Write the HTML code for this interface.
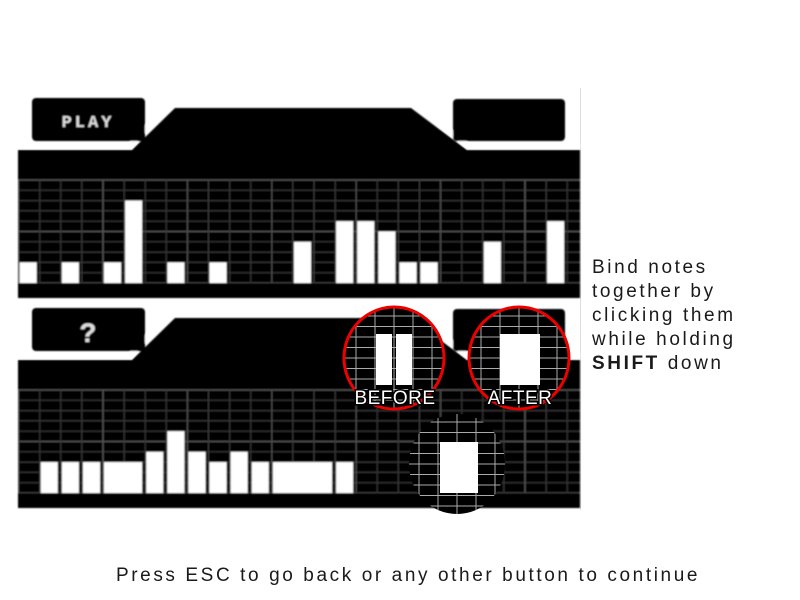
<!DOCTYPE html>
<html><head><meta charset="utf-8">
<style>
body{margin:0;width:800px;height:600px;background:#fff;overflow:hidden;font-family:"Liberation Sans",sans-serif;}
svg{position:absolute;left:0;top:0;}
.txt{position:absolute;color:#1a1a1a;font-size:19px;letter-spacing:2.6px;}
</style></head>
<body>
<svg id="scene" width="800" height="600">
  <defs>
    <filter id="soft"><feGaussianBlur stdDeviation="0.8"/></filter>
    <clipPath id="c1"><ellipse cx="394" cy="358" rx="50" ry="51"/></clipPath>
    <clipPath id="c2"><ellipse cx="519" cy="358" rx="50" ry="51"/></clipPath>
    <clipPath id="c3"><ellipse cx="457" cy="464" rx="48" ry="50"/></clipPath>
  </defs>
  <line x1="580.5" y1="88" x2="580.5" y2="510" stroke="#ddd" stroke-width="1"/>
  <g id="panels" filter="url(#soft)"></g>
  <g id="lens-before" clip-path="url(#c1)"></g>
  <ellipse cx="394" cy="358" rx="50" ry="51" fill="none" stroke="#e00" stroke-width="3"/>
  <g id="lens-after" clip-path="url(#c2)"></g>
  <ellipse cx="519" cy="358" rx="50" ry="51" fill="none" stroke="#e00" stroke-width="3"/>
  <g id="lens-cursor" clip-path="url(#c3)"></g>
  <text x="395" y="404" text-anchor="middle" font-size="19" fill="#fff" stroke="#000" stroke-width="3" paint-order="stroke" font-family="Liberation Sans, sans-serif" letter-spacing="0.5">BEFORE</text>
  <text x="520" y="404" text-anchor="middle" font-size="19" fill="#fff" stroke="#000" stroke-width="3" paint-order="stroke" font-family="Liberation Sans, sans-serif" letter-spacing="0.5">AFTER</text>
</svg>
<div class="txt" style="left:592px;top:256px;line-height:24px;">Bind notes<br>together by<br>clicking them<br>while holding<br><b style="letter-spacing:2.6px">SHIFT</b> down</div>
<div class="txt" style="left:0;width:816px;text-align:center;top:565px;">Press ESC to go back or any other button to continue</div>
<script>
// data
const topCols = [0,2,4,5,7,9,13,15,16,17,18,19,22,25];
const topHeights = [2,2,2,8,2,2,4,6,6,5,2,2,4,6];
const bottomCols = [1,2,3,4,6,7,8,9,10,11,12,15];
const bottomSpans = [1,1,1,2,1,1,1,1,1,1,3,1];
const bottomHeights = [3,3,3,3,4,6,4,3,4,3,3,3];
const panelLabels = ["PLAY","?"];

const NS="http://www.w3.org/2000/svg";
const X0=18.6, PITCH=21.1, ROW=10.3;
function colX(i){return X0+1+PITCH*i;}
function mk(tag,attrs,parent){const e=document.createElementNS(NS,tag);for(const k in attrs)e.setAttribute(k,attrs[k]);parent.appendChild(e);return e;}
const panels=document.getElementById('panels');

function panel(dy,label,cols,spans,heights,pname){
  const g=mk('g',{},panels);
  
  
  const hdr=mk('path',{d:`M18 ${150+dy} L132 ${150+dy} L175 ${108+dy} L411 ${108+dy} L467 ${150+dy} L580 ${150+dy} L580 ${298+dy} L18 ${298+dy} Z`,fill:'#000'},g);
  
  
  mk('path',{d:`M18 ${146+dy} L130 ${146+dy} L150 ${124+dy}`,stroke:'#fff','stroke-width':5,fill:'none'},g);
  mk('path',{d:`M440 ${124+dy} L468 ${146+dy} L580 ${146+dy}`,stroke:'#fff','stroke-width':5,fill:'none'},g);
  const lb=mk('rect',{x:32,y:98+dy,width:113,height:43,rx:4,fill:'#000'},g);
  
  
  const rb=mk('rect',{x:453,y:99+dy,width:112,height:42,rx:4,fill:'#000'},g);
  
  
  const t=mk('text',{x:88,y:(label==='?'?132:127)+dy,'text-anchor':'middle',fill:'#ddd','font-size':label==='?'?28:17,'font-weight':'bold','font-family':'Liberation Mono, monospace','letter-spacing':label==='?'?0:3},g);
  t.textContent=label;
  
  
  const top=180+dy, bot=283+dy;
  for(let k=0;k<=10;k++){
    const y=top+k*ROW;
    mk('line',{x1:18,x2:580,y1:y,y2:y,stroke:k%5===0?'#5a5a5a':'#3c3c3c','stroke-width':1},g);
  }
  for(let k=0;k<27;k++){
    const x=X0+k*PITCH;
    mk('line',{x1:x,x2:x,y1:top,y2:bot,stroke:k%4===0?'#5a5a5a':'#3c3c3c','stroke-width':1},g);
  }
  for(let i=0;i<cols.length;i++){
    const h=heights[i]*ROW;
    const w=PITCH*spans[i]-4;
    const b=mk('rect',{x:colX(cols[i]),y:bot-h,width:w,height:h,fill:'#fff'},g);
    
    
  }
  mk('rect',{x:18,y:bot,width:562,height:298+dy-bot,fill:'#000'},g);
}
panel(0,panelLabels[0],topCols,topCols.map(()=>1),topHeights,'top-track');
panel(210,panelLabels[1],bottomCols,bottomSpans,bottomHeights,'bottom-track');

function lens(id,cx,cy,bars){
  const g=document.getElementById(id);
  mk('rect',{x:cx-60,y:cy-60,width:120,height:120,fill:'#000'},g);
  for(let k=-6;k<=6;k++){
    mk('line',{x1:cx-60,x2:cx+60,y1:cy+k*10.5,y2:cy+k*10.5,stroke:'#aaa','stroke-width':1},g);
    mk('line',{y1:cy-60,y2:cy+60,x1:cx+k*19,x2:cx+k*19,stroke:'#aaa','stroke-width':1},g);
  }
  bars.forEach(b=>{const r=mk('rect',{x:b[0],y:b[1],width:b[2],height:b[3],fill:'#fff'},g);
    
    });
}
lens('lens-before',394,358,[[376,334,16,51],[396,334,16,51]]);
lens('lens-after',519,358,[[500,334,40,51]]);
lens('lens-cursor',457,464,[[440,442,38,51]]);
</script>
</body></html>
